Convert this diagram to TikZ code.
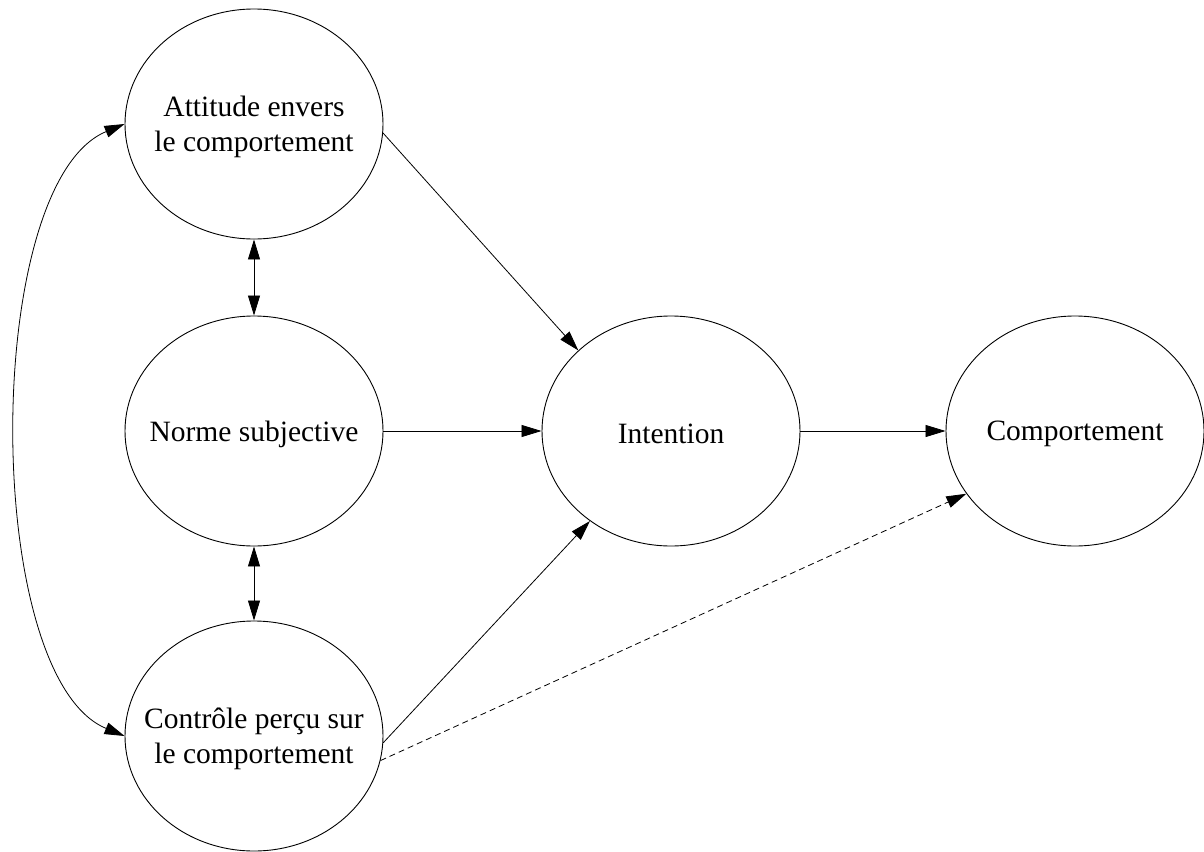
\documentclass[tikz,border=0pt]{standalone}
\usepackage{fontspec}
\setmainfont{Liberation Serif}
\usetikzlibrary{shapes.geometric,arrows.meta}
\begin{document}
\begin{tikzpicture}[x=1pt,y=-1pt,
  concept/.style={ellipse,draw,line width=0.9pt,minimum width=258pt,minimum height=230pt,
    inner sep=0pt,label={[align=center,yshift=-3pt,font=\fontsize{29.5}{35}\selectfont]center:#1}},
  link/.style={line width=0.8pt,-{Triangle[length=20pt,width=12pt]}},
  bilink/.style={line width=0.8pt,{Triangle[length=20pt,width=12pt]}-{Triangle[length=20pt,width=12pt]}}]
\useasboundingbox (0,0) rectangle (1204,851);
\node[concept={Attitude envers\\le comportement}] (att) at (254,124) {};
\node[concept={Norme subjective}] (norm) at (254,431) {};
\node[concept={Contrôle perçu sur\\le comportement}] (ctrl) at (254,736) {};
\node[concept={Intention}] (int) at (671,431) {};
\node[concept={Comportement}] (comp) at (1075,431) {};
\draw[link] (att.-4) -- (int.139);
\draw[link] (norm.east) -- (int.west);
\draw[link] (ctrl.-3) -- (int.228);
\draw[link] (int.east) -- (comp.west);
\draw[link,dash pattern=on 6pt off 4pt] (ctrl.-11) -- (comp.210);
\draw[bilink] (att.south) -- (norm.north);
\draw[bilink] (norm.south) -- (ctrl.north);
\draw[bilink] (att.west) .. controls +(-143,59) and +(-143,-59) .. (ctrl.west);
\end{tikzpicture}
\end{document}
